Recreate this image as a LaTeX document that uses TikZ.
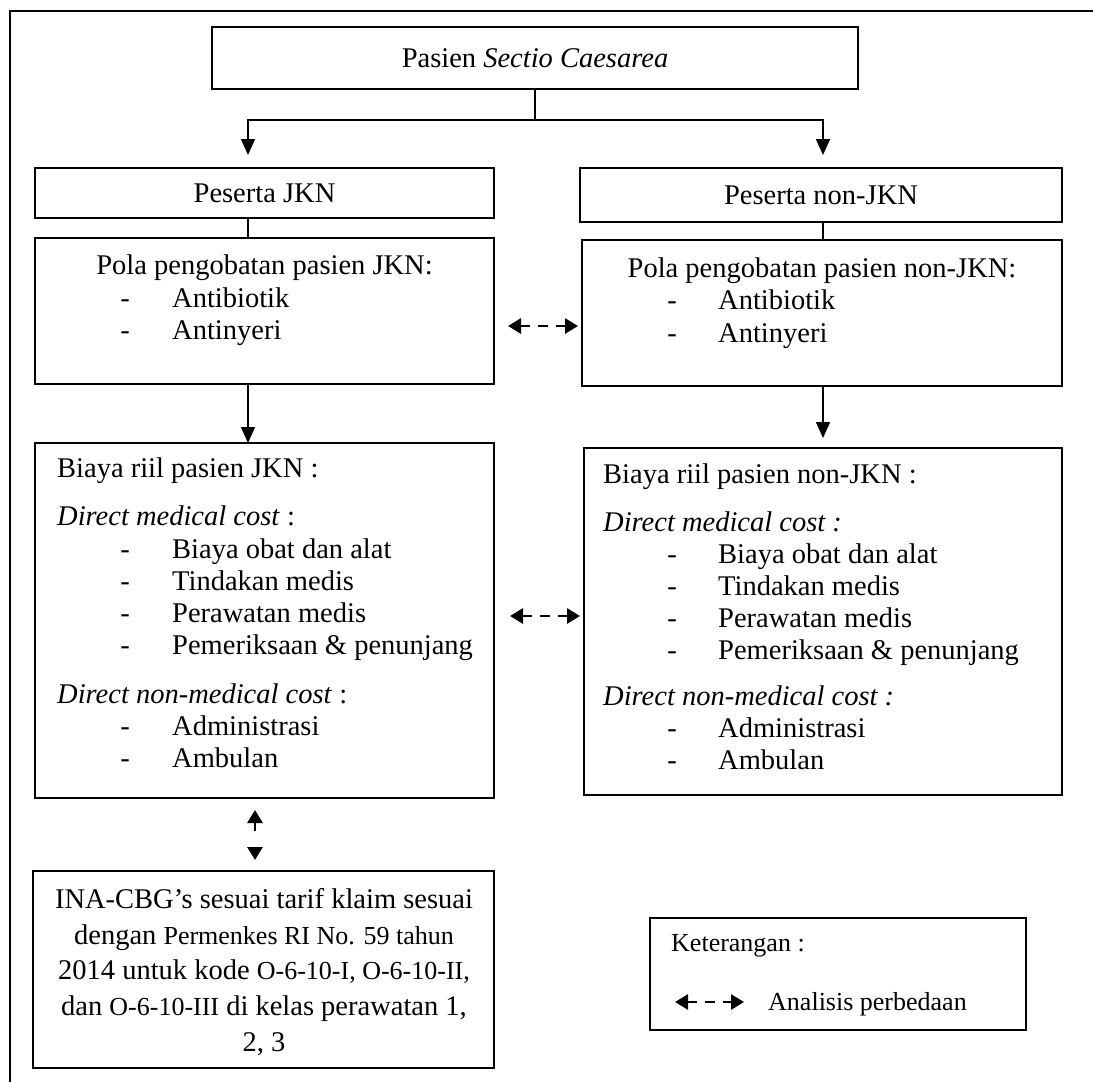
\documentclass[tikz,border=0pt]{standalone}
\usepackage{fontspec}
\setmainfont{Liberation Serif}
\usetikzlibrary{arrows.meta}
\newcommand\mainsz{\fontsize{28.5}{32.5}\selectfont}
\newcommand\inasz{\fontsize{28.5}{35.7}\selectfont}
\newcommand\inasm{\fontsize{26}{35.7}\selectfont}
\newcommand\ketsz{\fontsize{26}{30}\selectfont}
\begin{document}
\begin{tikzpicture}[x=1pt,y=-1pt,
  box/.style={draw=black, line width=1.3pt, inner sep=0pt, outer sep=0pt},
  txt/.style={inner sep=0pt, anchor=base west, font=\mainsz},
  ctxt/.style={inner sep=0pt, anchor=base, font=\mainsz},
  ktxt/.style={inner sep=0pt, anchor=base west, font=\ketsz},
  plain/.style={line width=1.7pt},
  solidarrow/.style={line width=1.7pt, -{Triangle[length=16pt,width=14pt]}},
  dasharrow/.style={line width=2.8pt, dash pattern=on 10pt off 8pt,
    {Triangle[length=13pt,width=15pt]}-{Triangle[length=13pt,width=15pt]}},
]
\useasboundingbox (0,0) rectangle (1093,1082);
% outer frame (top and left only)
\draw[line width=2.6pt] (10,1082) -- (10,11) -- (1093,11);

% boxes
\node[box, minimum width=646pt, minimum height=62pt, font=\mainsz] (top) at (535,58) {Pasien \textit{Sectio Caesarea}};
\node[box, minimum width=459pt, minimum height=50pt, font=\mainsz] (pj) at (264.5,193) {Peserta JKN};
\node[box, minimum width=482pt, minimum height=54pt, font=\mainsz] (pn) at (821,195) {Peserta non-JKN};
\node[box, minimum width=459pt, minimum height=146pt] (polaj) at (264.5,311) {};
\node[box, minimum width=480pt, minimum height=146pt] (polan) at (822,313) {};
\node[box, minimum width=459pt, minimum height=355pt] (biayaj) at (264.5,620.5) {};
\node[box, minimum width=478pt, minimum height=347pt] (biayan) at (823,621.5) {};
\node[box, minimum width=461pt, minimum height=197pt] (ina) at (263.5,969.5) {};
\node[inner sep=0pt, align=center, font=\inasz] (inatxt) at (264,972)
  {INA-CBG’s sesuai tarif klaim sesuai\\dengan {\inasm Permenkes RI No. 59 tahun}\\2014 untuk kode {\inasm O-6-10-I, O-6-10-II,}\\dan {\inasm O-6-10-III} di kelas perawatan 1,\\2, 3};
\node[box, minimum width=376pt, minimum height=112pt] (ket) at (838,974) {};

% Pola JKN text
\node[ctxt] (pjt) at (264.5,274) {Pola pengobatan pasien JKN:};
\node[ctxt] (pjd1) at (125,307) {-};
\node[txt] (pj1) at (172,307) {Antibiotik};
\node[ctxt] (pjd2) at (125,339) {-};
\node[txt] (pj2) at (172,339) {Antinyeri};

% Pola non-JKN text
\node[ctxt] (pnt) at (822,277) {Pola pengobatan pasien non-JKN:};
\node[ctxt] (pnd1) at (672,309) {-};
\node[txt] (pn1) at (718,309) {Antibiotik};
\node[ctxt] (pnd2) at (672,342) {-};
\node[txt] (pn2) at (718,342) {Antinyeri};

% Biaya JKN text
\node[txt] (bj0) at (57,477) {Biaya riil pasien JKN :};
\node[txt] (bj1) at (57,525) {\textit{Direct medical cost} :};
\node[ctxt] (bjd1) at (125,558) {-};
\node[txt] (bj1a) at (172,558) {Biaya obat dan alat};
\node[ctxt] (bjd2) at (125,590) {-};
\node[txt] (bj1b) at (172,590) {Tindakan medis};
\node[ctxt] (bjd3) at (125,622) {-};
\node[txt] (bj1c) at (172,622) {Perawatan medis};
\node[ctxt] (bjd4) at (125,654) {-};
\node[txt] (bj1d) at (172,654) {Pemeriksaan \& penunjang};
\node[txt] (bj2) at (57,703) {\textit{Direct non-medical cost} :};
\node[ctxt] (bjd5) at (125,735) {-};
\node[txt] (bj2a) at (172,735) {Administrasi};
\node[ctxt] (bjd6) at (125,767) {-};
\node[txt] (bj2b) at (172,767) {Ambulan};

% Biaya non-JKN text
\node[txt] (bn0) at (603,483) {Biaya riil pasien non-JKN :};
\node[txt] (bn1) at (603,531) {\textit{Direct medical cost :}};
\node[ctxt] (bnd1) at (672,563) {-};
\node[txt] (bn1a) at (718,563) {Biaya obat dan alat};
\node[ctxt] (bnd2) at (672,595) {-};
\node[txt] (bn1b) at (718,595) {Tindakan medis};
\node[ctxt] (bnd3) at (672,627) {-};
\node[txt] (bn1c) at (718,627) {Perawatan medis};
\node[ctxt] (bnd4) at (672,659) {-};
\node[txt] (bn1d) at (718,659) {Pemeriksaan \& penunjang};
\node[txt] (bn2) at (603,705) {\textit{Direct non-medical cost :}};
\node[ctxt] (bnd5) at (672,737) {-};
\node[txt] (bn2a) at (718,737) {Administrasi};
\node[ctxt] (bnd6) at (672,769) {-};
\node[txt] (bn2b) at (718,769) {Ambulan};

% legend text
\node[ktxt] (k0) at (671,951) {Keterangan :};
\node[ktxt] (k1) at (768,1010) {Analisis perbedaan};
\coordinate (ka) at (675,1002);
\coordinate (kb) at (744,1002);
\draw[dasharrow] (ka) -- (kb);

% connectors
\coordinate (split) at (535,120);
\coordinate (pjtip) at (248,155);
\coordinate (pntip) at (823,155);
\coordinate (jl) at (248,0);
\coordinate (jr) at (823,0);
\coordinate (d1) at (0,326);
\coordinate (d2) at (0,616);
\coordinate (vx) at (255,0);
\draw[plain] (top.south) -- (split);
\draw[solidarrow] (split) -| (pjtip);
\draw[solidarrow] (split) -| (pntip);
\draw[plain] (pj.south -| jl) -- (polaj.north -| jl);
\draw[plain] (pn.south -| jr) -- (polan.north -| jr);
\draw[solidarrow] (polaj.south -| jl) -- (biayaj.north -| jl);
\draw[solidarrow, shorten >=10pt] (polan.south -| jr) -- (biayan.north -| jr);
\draw[dasharrow, shorten <=14pt, shorten >=4pt] (polaj.east |- d1) -- (polan.west |- d1);
\draw[dasharrow, shorten <=16pt, shorten >=4pt] (biayaj.east |- d2) -- (biayan.west |- d2);
\draw[dasharrow, dash pattern=on 9pt off 16pt, shorten <=12pt, shorten >=11pt] (biayaj.south -| vx) -- (ina.north -| vx);
\end{tikzpicture}
\end{document}
